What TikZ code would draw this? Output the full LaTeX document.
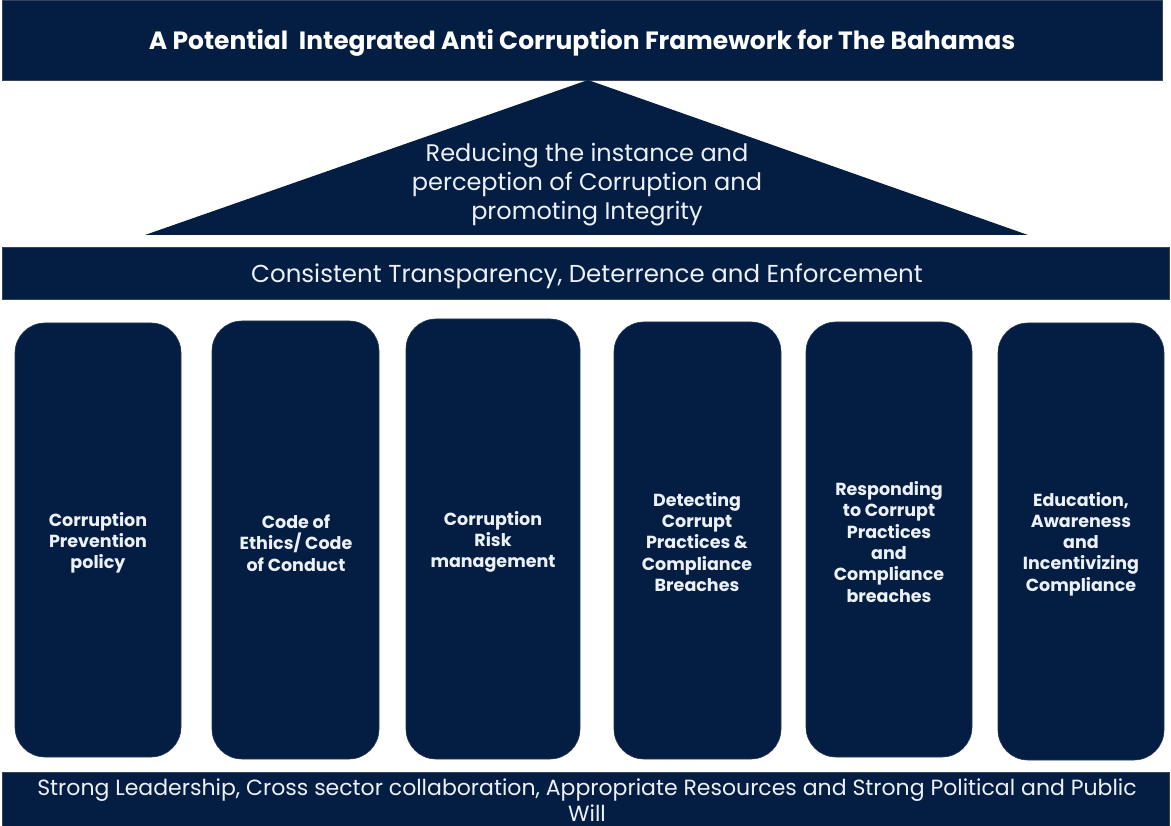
\documentclass[tikz,border=0pt]{standalone}
\usepackage{fontspec}
\setmainfont{Poppins}
\definecolor{navy}{RGB}{4,29,66}
\definecolor{txt}{RGB}{236,241,247}
\begin{document}
\begin{tikzpicture}[x=1pt,y=-1pt,
  bar/.style={fill=navy,draw=navy!60!gray,line width=0.6pt},
  pillar/.style={fill=navy,draw=navy!70!gray,line width=0.6pt,rounded corners=30pt},
  ptext/.style={text=txt,align=center,font=\fontsize{17.5}{21.3}\selectfont\bfseries},
  btext/.style={text=txt,align=center,font=\fontsize{24}{29}\selectfont}]
\useasboundingbox (0,0) rectangle (1171,826);
\fill[white] (0,0) rectangle (1171,826);
% title bar
\draw[bar] (2,0) rectangle (1162,80);
\node[text=white,font=\fontsize{25}{30}\selectfont\bfseries] (title) at (582,43) {A Potential\ \ Integrated Anti Corruption Framework for The Bahamas};
% roof triangle
\fill[navy] (588,80) coordinate (apex) -- (1028,235) coordinate (br) -- (145,235) coordinate (bl) -- cycle;
\node[btext] (roof) at (587,185) {Reducing the instance and\\perception of Corruption and\\promoting Integrity};
% band
\draw[bar] (2,247) rectangle (1169,299);
\node[btext,font=\fontsize{24.5}{29}\selectfont] (band) at (587,276) {Consistent Transparency, Deterrence and Enforcement};
% pillars
\draw[pillar] (15,323) rectangle (181,757);
\node[ptext] (p1) at (98,543) {Corruption\\Prevention\\policy};
\draw[pillar] (212,321) rectangle (379,759);
\node[ptext] (p2) at (296,543) {Code of\\Ethics/ Code\\of Conduct};
\draw[pillar] (406,319) rectangle (580,759);
\node[ptext] (p3) at (493,542) {Corruption\\Risk\\management};
\draw[pillar] (614,322) rectangle (781,759);
\node[ptext] (p4) at (697,542) {Detecting\\Corrupt\\Practices \&\\Compliance\\Breaches};
\draw[pillar] (806,322) rectangle (972,757);
\node[ptext] (p5) at (889,542) {Responding\\to Corrupt\\Practices\\and\\Compliance\\breaches};
\draw[pillar] (998,323) rectangle (1164,760);
\node[ptext] (p6) at (1081,544) {Education,\\Awareness\\and\\Incentivizing\\Compliance};
% bottom bar
\draw[bar] (2,772) rectangle (1169,830);
\node[text=txt,align=center,font=\fontsize{22}{26}\selectfont] (base) at (587,800) {Strong Leadership, Cross sector collaboration, Appropriate Resources and Strong Political and Public\\Will};
\end{tikzpicture}
\end{document}
